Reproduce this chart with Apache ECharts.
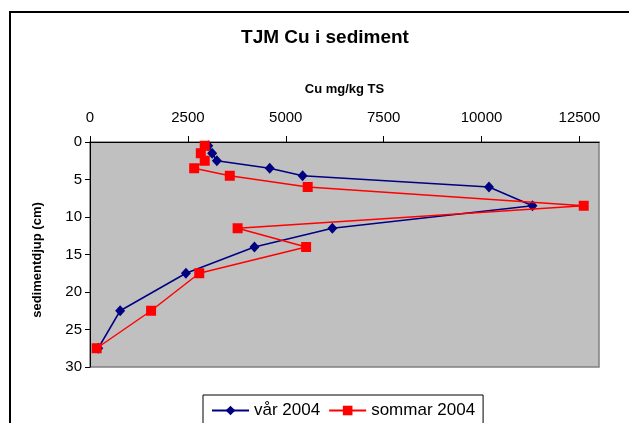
<!DOCTYPE html>
<html>
<head>
<meta charset="utf-8">
<script src="https://cdn.jsdelivr.net/npm/echarts@6/dist/echarts.min.js"></script>
<style>html,body{margin:0;padding:0;background:#fff;}#c{width:629px;height:423px;}</style>
</head>
<body>
<div id="c"></div>
<script>
const depths = [0.5, 1.5, 2.5, 3.5, 4.5, 6, 8.5, 11.5, 14, 17.5, 22.5, 27.5];
const var2004 = [3020, 3120, 3240, 4590, 5430, 10190, 11300, 6190, 4200, 2450, 770, 210];
const sommar2004 = [2930, 2830, 2930, 2660, 3570, 5560, 12610, 3770, 5520, 2790, 1560, 170];
const xTicks = [0, 2500, 5000, 7500, 10000, 12500];
const yTicks = [0, 5, 10, 15, 20, 25, 30];
const seriesNames = ['vår 2004', 'sommar 2004'];

const FONT = '"Liberation Sans", Arial, sans-serif';
const chart = echarts.init(document.getElementById('c'), null, {renderer: 'canvas'});
const pairs = vals => vals.map((v, i) => [v, depths[i]]);

chart.setOption({
  animation: false,
  backgroundColor: '#ffffff',
  textStyle: {fontFamily: FONT, color: '#000'},
  title: {
    text: 'TJM Cu i sediment',
    left: 325, top: 28, padding: 0, textAlign: 'center',
    textStyle: {fontFamily: FONT, fontSize: 19, fontWeight: 'bold', color: '#000'}
  },
  graphic: [{
    type: 'rect', silent: true, z: -1,
    shape: {x: 10, y: 12, width: 700, height: 500},
    style: {fill: null, stroke: '#000', lineWidth: 2}
  }],
  legend: {
    data: seriesNames,
    left: 203, top: 395,
    orient: 'horizontal',
    padding: [7, 8, 20, 8],
    itemGap: 8,
    itemWidth: 37, itemHeight: 12,
    borderColor: '#000', borderWidth: 1,
    textStyle: {fontFamily: FONT, fontSize: 17, color: '#000'}
  },
  grid: {
    left: 90, top: 142, right: 30, bottom: 56,
    show: true, backgroundColor: '#c0c0c0', borderColor: '#808080', borderWidth: 1.5
  },
  xAxis: {
    type: 'value', position: 'top',
    min: 0, max: 13000, interval: 2500,
    name: 'Cu mg/kg TS', nameLocation: 'middle', nameGap: 46,
    nameTextStyle: {fontFamily: FONT, fontSize: 13, fontWeight: 'bold', color: '#000'},
    axisLine: {show: true, lineStyle: {color: '#000', width: 1}},
    axisTick: {show: true, length: 6, lineStyle: {color: '#000'}, customValues: xTicks},
    axisLabel: {fontFamily: FONT, fontSize: 15, color: '#000', margin: 17, customValues: xTicks,
                formatter: v => String(v)},
    splitLine: {show: false}
  },
  yAxis: {
    type: 'value', inverse: true,
    min: 0, max: 30, interval: 5,
    name: 'sedimentdjup (cm)', nameLocation: 'middle', nameGap: 46, nameRotate: 90,
    nameTextStyle: {fontFamily: FONT, fontSize: 13, fontWeight: 'bold', color: '#000',
                    padding: [0, 11, 0, 0]},
    axisLine: {show: true, lineStyle: {color: '#000', width: 1}},
    axisTick: {show: true, length: 5, lineStyle: {color: '#000'}},
    axisLabel: {fontFamily: FONT, fontSize: 15, color: '#000', margin: 8, customValues: yTicks,
                formatter: v => String(v)},
    splitLine: {show: false}
  },
  series: [
    {
      name: seriesNames[0], type: 'line',
      data: pairs(var2004),
      symbol: 'diamond', symbolSize: [10, 11],
      lineStyle: {color: '#000080', width: 1.5},
      itemStyle: {color: '#000080'},
      z: 2
    },
    {
      name: seriesNames[1], type: 'line',
      data: pairs(sommar2004),
      symbol: 'rect', symbolSize: 10,
      lineStyle: {color: '#ff0000', width: 1.5},
      itemStyle: {color: '#ff0000'},
      z: 3
    }
  ]
});
</script>
</body>
</html>
